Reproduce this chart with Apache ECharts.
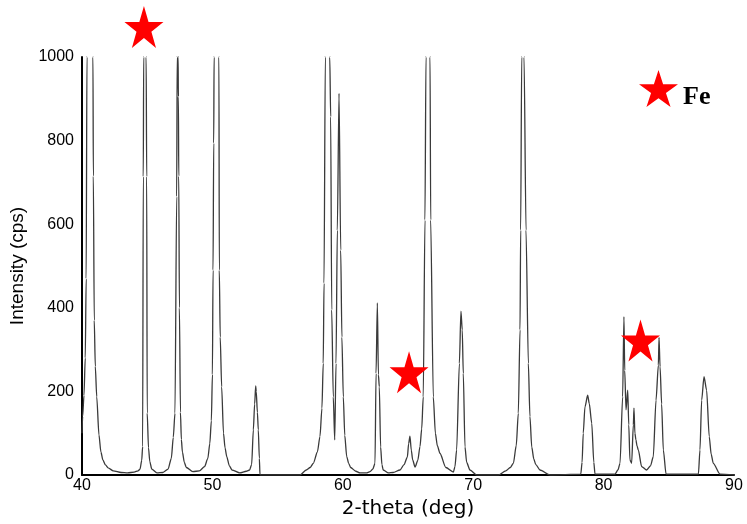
<!DOCTYPE html>
<html>
<head>
<meta charset="utf-8">
<script src="https://cdn.jsdelivr.net/npm/echarts@6/dist/echarts.min.js"></script>
<style>html,body{margin:0;padding:0;background:#fff;}#c{width:747px;height:524px;}</style>
</head>
<body>
<div id="c"></div>
<script>
// Diffraction pattern: [2-theta (deg), intensity (cps)]
const seg1 = [[40.0,100],[40.05,140],[40.15,190],[40.25,280],[40.32,470],[40.38,1000],[40.6,2500],[40.84,1000],[40.87,715],[40.94,370],[41.02,260],[41.13,187],[41.3,96],[41.45,55],[41.6,36],[41.8,24],[42.0,17],[42.4,10],[43.0,6],[43.5,5],[44.0,7],[44.3,10],[44.45,14],[44.58,35],[44.65,68],[44.7,714],[44.73,1000],[44.82,2500],[44.92,1000],[44.96,714],[45.0,148],[45.1,65],[45.2,32],[45.35,14],[45.75,5],[46.2,6],[46.6,14],[46.85,40],[47.0,90],[47.13,148],[47.26,666],[47.3,1000],[47.33,1500],[47.37,1000],[47.39,905],[47.42,715],[47.47,400],[47.55,150],[47.62,85],[47.7,55],[47.85,30],[48.0,18],[48.5,8],[49.0,10],[49.4,20],[49.65,40],[49.8,75],[49.92,130],[50.0,240],[50.05,490],[50.1,794],[50.13,1000],[50.3,2500],[50.5,1000],[50.53,490],[50.6,330],[50.71,211],[50.85,100],[50.97,65],[51.1,44],[51.3,22],[51.5,12],[52.1,5],[52.6,9],[52.85,12],[53.01,25],[53.14,108],[53.24,170],[53.32,213],[53.36,200],[53.45,150],[53.52,108],[53.6,40],[53.65,0]];
const seg2 = [[56.72,0],[57.2,12],[57.5,18],[57.74,28],[58.05,55],[58.25,92],[58.4,160],[58.5,267],[58.56,459],[58.66,1000],[58.83,2500],[59.0,1000],[59.07,857],[59.15,395],[59.27,187],[59.38,84],[59.48,267],[59.58,586],[59.71,913],[59.84,538],[59.93,330],[60.04,187],[60.15,95],[60.3,44],[60.45,28],[60.6,18],[61.0,9],[61.32,5],[61.8,5],[62.09,8],[62.3,14],[62.47,28],[62.55,243],[62.65,412],[62.73,240],[62.8,211],[62.9,67],[63.0,25],[63.1,12],[63.5,5],[63.85,6],[64.39,12],[64.7,25],[64.95,43],[65.05,75],[65.15,93],[65.25,60],[65.36,36],[65.54,19],[65.75,35],[65.92,68],[66.05,110],[66.17,187],[66.3,610],[66.38,1000],[66.53,2500],[66.69,1000],[66.74,610],[66.94,187],[67.1,100],[67.25,70],[67.45,52],[67.9,18],[68.48,7],[68.6,20],[68.73,60],[68.94,267],[69.06,392],[69.16,347],[69.24,243],[69.37,67],[69.5,30],[69.75,12],[70.27,0]];
const seg3 = [[71.93,0],[72.5,10],[72.85,18],[73.08,28],[73.3,70],[73.46,148],[73.59,347],[73.64,586],[73.72,1000],[73.81,2500],[73.9,1000],[74.05,586],[74.23,267],[74.35,140],[74.49,67],[74.65,38],[74.8,25],[75.12,12],[75.89,0]];
const seg4 = [[78.25,2],[78.35,30],[78.44,100],[78.57,163],[78.78,191],[78.9,171],[79.09,124],[79.25,30],[79.34,2]];
const seg5 = [[80.87,2],[81.1,12],[81.26,28],[81.46,187],[81.56,379],[81.62,250],[81.72,156],[81.85,203],[81.93,120],[82.02,36],[82.15,28],[82.28,120],[82.33,160],[82.4,100],[82.48,84],[82.56,70],[82.66,60],[82.92,20],[83.3,12],[83.6,22],[83.81,44],[84.02,179],[84.2,263],[84.25,329],[84.33,259],[84.45,170],[84.58,60],[84.79,2]];
const seg6 = [[87.27,2],[87.39,60],[87.52,179],[87.7,235],[87.9,203],[88.1,92],[88.25,50],[88.41,28],[88.93,2],[90.0,0]];
// Fe peak markers (star positions in data units)
const feMarks = [[44.75,1072],[65.08,246],[82.83,322]];
const xTitle = '2-theta (deg)';
const yTitle = 'Intensity (cps)';

const pattern = [].concat(seg1, seg2, seg3, seg4, seg5, seg6);
const STAR = 'path://M0,-1L0.2245,-0.309L0.951,-0.309L0.363,0.118L0.588,0.809L0,0.382L-0.588,0.809L-0.363,0.118L-0.951,-0.309L-0.2245,-0.309Z';

const chart = echarts.init(document.getElementById('c'), null, {renderer: 'canvas'});
chart.setOption({
  animation: false,
  backgroundColor: '#fff',
  grid: {left: 82, right: 13, top: 57, bottom: 49, containLabel: false},
  legend: {
    data: ['Fe'], left: 634, top: 65, icon: STAR, itemWidth: 39, itemHeight: 42,
    itemStyle: {opacity: 1},
    formatter: name => '{f|' + name + '}',
    textStyle: {
      fontFamily: 'Liberation Serif', fontWeight: 'bold', fontSize: 26, color: '#000',
      rich: {f: {fontFamily: 'Liberation Serif', fontWeight: 'bold', fontSize: 26, color: '#000', padding: [17, 0, 0, 0]}}
    },
    selectedMode: false
  },
  xAxis: {
    type: 'value', min: 40, max: 90, interval: 10,
    name: xTitle, nameLocation: 'middle', nameGap: 20,
    nameTextStyle: {fontFamily: 'DejaVu Sans', fontSize: 20, color: '#000'},
    axisLine: {show: true, onZero: false, lineStyle: {color: '#000', width: 2}},
    axisTick: {show: false},
    splitLine: {show: false},
    axisLabel: {fontFamily: 'Liberation Sans', fontSize: 16, color: '#000', margin: 3, formatter: v => String(v)}
  },
  yAxis: {
    type: 'value', min: 0, max: 1000, interval: 200,
    name: yTitle, nameLocation: 'middle', nameGap: 42,
    nameTextStyle: {fontFamily: 'Liberation Sans', fontSize: 19, color: '#000'},
    axisLine: {show: true, lineStyle: {color: '#000', width: 2}},
    axisTick: {show: false},
    splitLine: {show: false},
    axisLabel: {fontFamily: 'Liberation Sans', fontSize: 16, color: '#000', margin: 8, formatter: v => String(v)}
  },
  series: [
    {
      name: 'pattern', type: 'line', data: pattern, showSymbol: false, symbol: 'none',
      smooth: 0.25, smoothMonotone: 'x',
      lineStyle: {color: '#3a3a3a', width: 1.3}, clip: true, silent: true, z: 2
    },
    {
      name: 'Fe', type: 'scatter', data: feMarks, symbol: STAR, symbolSize: [39, 42],
      itemStyle: {color: '#ff0000', opacity: 1}, clip: false, silent: true, z: 5
    }
  ]
});
</script>
</body>
</html>
